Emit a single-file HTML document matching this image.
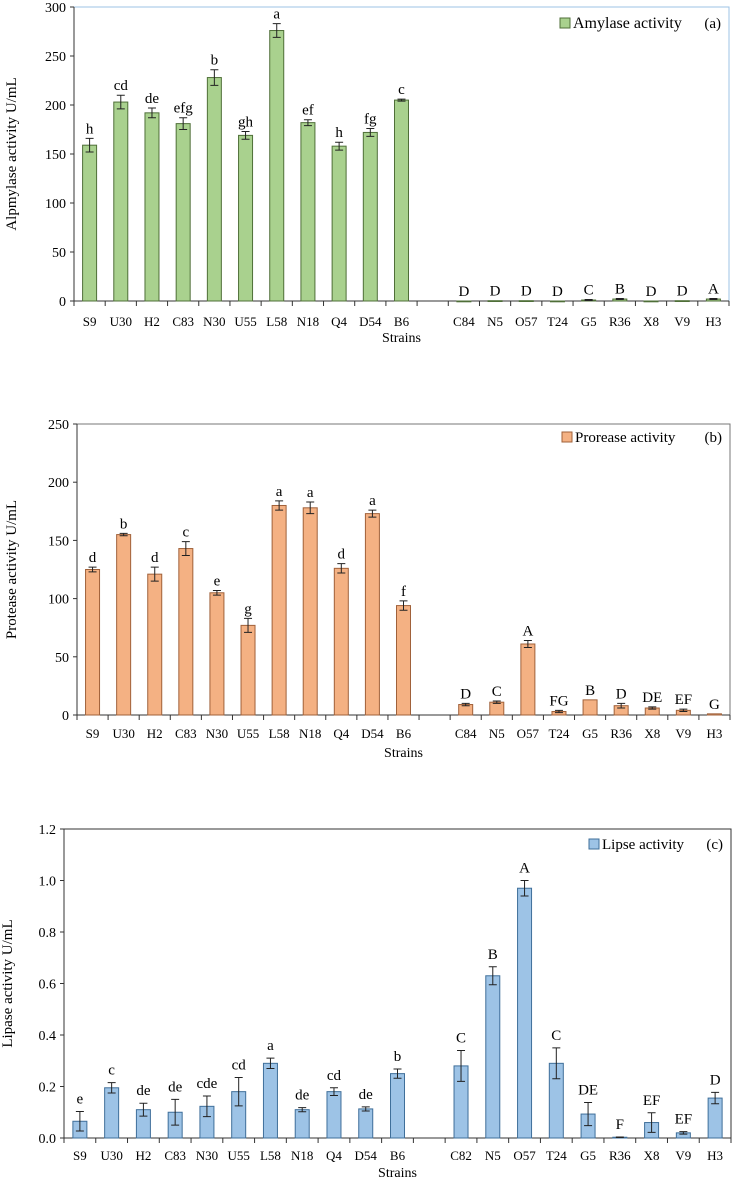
<!DOCTYPE html>
<html><head><meta charset="utf-8">
<style>
body{margin:0;background:#fff;}
svg{display:block;font-family:"Liberation Serif",serif;}
</style></head>
<body>
<svg id="fig" width="736" height="1182" viewBox="0 0 736 1182" xmlns="http://www.w3.org/2000/svg"></svg>
<script>
const catsA = ["S9","U30","H2","C83","N30","U55","L58","N18","Q4","D54","B6","","C84","N5","O57","T24","G5","R36","X8","V9","H3"];
const catsC = ["S9","U30","H2","C83","N30","U55","L58","N18","Q4","D54","B6","","C82","N5","O57","T24","G5","R36","X8","V9","H3"];
const amylase = [159,203,192,181,228,169,276,182,158,172,205,null,0,0.3,0.3,0,1,2,0,0.3,2];
const amylaseErr = [7,7,5,6,8,4,7,3,4,4,1,null,0,0,0,0,0.5,0.5,0,0,0.5];
const amylaseLbl = ["h","cd","de","efg","b","gh","a","ef","h","fg","c","","D","D","D","D","C","B","D","D","A"];
const protease = [125,155,121,143,105,77,180,178,126,173,94,null,9,11,61,3,13,8,6,4,1];
const proteaseErr = [2,1,6,6,2,6,4,5,4,3,4,null,1,1,3,1,0,2,1,1,0];
const proteaseLbl = ["d","b","d","c","e","g","a","a","d","a","f","","D","C","A","FG","B","D","DE","EF","G"];
const lipase = [0.065,0.195,0.11,0.10,0.123,0.18,0.29,0.11,0.18,0.113,0.25,null,0.28,0.63,0.97,0.29,0.093,0.003,0.06,0.02,0.155];
const lipaseErr = [0.038,0.02,0.025,0.05,0.04,0.055,0.02,0.008,0.015,0.008,0.018,null,0.06,0.035,0.03,0.06,0.045,0.001,0.038,0.005,0.022];
const lipaseLbl = ["e","c","de","de","cde","cd","a","de","cd","de","b","","C","B","A","C","DE","F","EF","EF","D"];
const ticksA = [0,50,100,150,200,250,300];
const ticksB = [0,50,100,150,200,250];
const ticksC = ["0.0","0.2","0.4","0.6","0.8","1.0","1.2"];

const NS="http://www.w3.org/2000/svg";
const svg=document.getElementById('fig');
function mk(tag,attrs,parent,text){const e=document.createElementNS(NS,tag);for(const k in attrs)e.setAttribute(k,attrs[k]);if(text!==undefined)e.textContent=text;(parent||svg).appendChild(e);return e;}

function panel(o){
  const g=mk('g',{});
  
  
  const n=o.cats.length, slot=(o.x1-o.x0)/n;
  const ymax=o.ymax;
  const Y=v=>o.yb-(v/ymax)*(o.yb-o.yt);
  const X=i=>o.x0+slot*(i+0.5);
  if(o.frame){
    const f=mk('path',{d:`M${o.x0} ${o.yt}H${o.x1}V${o.yb}`,fill:'none',stroke:o.frame,'stroke-width':1},g);
    
    
  }
  const ax=mk('path',{d:`M${o.x0} ${o.yt}V${o.yb}H${o.x1}`,fill:'none',stroke:'#333','stroke-width':1},g);
  
  
  o.ticks.forEach(t=>{
    const v=parseFloat(t), y=Y(v);
    mk('line',{x1:o.x0-4,x2:o.x0,y1:y,y2:y,stroke:'#333'},g);
    const tl=mk('text',{x:o.x0-8,y:y+5,'text-anchor':'end','font-size':14,fill:'#000'},g,t);
    
    
  });
  for(let i=0;i<=n;i++){const x=o.x0+slot*i;mk('line',{x1:x,x2:x,y1:o.yb,y2:o.yb+5,stroke:'#333'},g);}
  o.cats.forEach((c,i)=>{
    if(!c)return;
    const t=mk('text',{x:X(i),y:o.labY,'text-anchor':'middle','font-size':13},g,c);
    
    
    const v=o.vals[i], e=o.errs[i];
    const yv=Y(v);
    const r=mk('rect',{x:X(i)-o.bw/2,y:yv,width:o.bw,height:Math.max(o.yb-yv,0.8),fill:o.fill,stroke:o.stroke,'stroke-width':1},g);
    
    
    const ya=Y(v+e), yb2=Y(Math.max(v-e,0));
    if(e>0){
      mk('path',{d:`M${X(i)} ${ya}V${yb2}M${X(i)-4} ${ya}H${X(i)+4}M${X(i)-4} ${yb2}H${X(i)+4}`,stroke:'#222','stroke-width':1,fill:'none'},g);
    }
    const lt=mk('text',{x:X(i),y:Y(v+e)-o.lblGap,'text-anchor':'middle','font-size':15},g,o.lbls[i]);
    
    
  });
  const xt=mk('text',{x:(o.x0+o.x1)/2,y:o.xtY,'text-anchor':'middle','font-size':14},g,'Strains');
  
  
  const yt=mk('text',{x:0,y:0,'text-anchor':'middle','font-size':15,transform:`translate(${o.ytX},${(o.yt+o.yb)/2}) rotate(-90)`},g,o.ytitle);
  
  
  const lg=mk('rect',{x:o.legX,y:o.legY-10,width:10,height:10,fill:o.fill,stroke:o.stroke},g);
  
  
  const lgt=mk('text',{x:o.legX+13,y:o.legY,'font-size':o.legFs},g,o.legText);
  
  
  const pl=mk('text',{x:o.x1-8,y:o.legY,'text-anchor':'end','font-size':15},g,o.panelLbl);
  
  
}

panel({name:'amylase-chart',cats:catsA,vals:amylase,errs:amylaseErr,lbls:amylaseLbl,ticks:ticksA,ymax:300,
  x0:74,x1:729,yt:7,yb:301,bw:14,fill:'#a9d18e',stroke:'#4f6f38',labY:326,xtY:342,ytX:16,
  ytitle:'Alpmylase activity U/mL',frame:'#9cc3e6',legX:560,legY:28,legFs:16,legText:'Amylase activity',panelLbl:'(a)',lblGap:5});
panel({name:'protease-chart',cats:catsA,vals:protease,errs:proteaseErr,lbls:proteaseLbl,ticks:ticksB,ymax:250,
  x0:77,x1:730,yt:424,yb:715,bw:14,fill:'#f4b183',stroke:'#a0613a',labY:738,xtY:757,ytX:16,
  ytitle:'Protease activity U/mL',frame:'#777',legX:562,legY:442,legFs:15,legText:'Prorease activity',panelLbl:'(b)',lblGap:5});
panel({name:'lipase-chart',cats:catsC,vals:lipase,errs:lipaseErr,lbls:lipaseLbl,ticks:ticksC,ymax:1.2,
  x0:64,x1:731,yt:829,yb:1138,bw:14,fill:'#9dc3e6',stroke:'#3f6f9a',labY:1160,xtY:1177,ytX:12,
  ytitle:'Lipase activity U/mL',frame:'#333',legX:589,legY:849,legFs:15,legText:'Lipse activity',panelLbl:'(c)',lblGap:8});
</script>
</body></html>
